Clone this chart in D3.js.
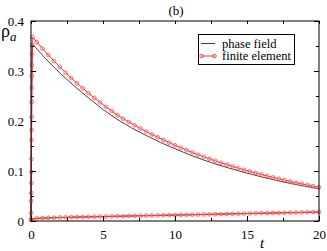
<!DOCTYPE html>
<html>
<head>
<meta charset="utf-8">
<script src="https://cdn.jsdelivr.net/npm/d3@7"></script>
<style>
body { margin: 0; background: #fff; }
</style>
</head>
<body>
<svg width="327" height="251" font-family="Liberation Serif"></svg>
<script>
// phase field: upper curve (t, rho_a)
let phaseUpper = [[0, 0], [0.02, 0.1], [0.05, 0.25], [0.1, 0.354], [1, 0.325], [2, 0.296], [3, 0.270],
  [4, 0.246], [5, 0.223], [6, 0.203], [7, 0.186], [8, 0.171], [9, 0.157], [10, 0.1445], [11, 0.1326],
  [12, 0.1218], [13, 0.1123], [14, 0.1037], [15, 0.0958], [16, 0.0883], [17, 0.0815], [18, 0.0752],
  [19, 0.0696], [20, 0.0645]];
// phase field: lower curve
let phaseLower = [[0, 0], [0.05, 0.004], [0.5, 0.0053], [2, 0.0069], [5, 0.0089], [10, 0.0118],
  [15, 0.0149], [20, 0.0178]];

// finite element: upper curve
let feUpper = [[0, 0.002], [0.005, 0.016], [0.01, 0.04], [0.015, 0.056], [0.02, 0.076], [0.025, 0.098],
  [0.03, 0.124], [0.035, 0.162], [0.04, 0.182], [0.045, 0.208], [0.05, 0.238], [0.055, 0.266],
  [0.06, 0.29], [0.065, 0.312], [0.07, 0.334], [0.08, 0.352], [0.1, 0.368],
  [0.4, 0.3578], [0.8, 0.3447], [1.2, 0.3320], [1.6, 0.3198], [2.0, 0.3081], [2.4, 0.2968],
  [2.8, 0.2859], [3.2, 0.2754], [3.6, 0.2653], [4.0, 0.2556], [4.4, 0.2462], [4.8, 0.2371],
  [5.2, 0.2284], [5.6, 0.2200], [6.0, 0.2120], [6.4, 0.2046], [6.8, 0.1979], [7.2, 0.1914],
  [7.6, 0.1851], [8.0, 0.1790], [8.4, 0.1731], [8.8, 0.1675], [9.2, 0.1620], [9.6, 0.1567],
  [10.0, 0.1515], [10.4, 0.1466], [10.8, 0.1418], [11.2, 0.1371], [11.6, 0.1326], [12.0, 0.1283],
  [12.4, 0.1241], [12.8, 0.1202], [13.2, 0.1164], [13.6, 0.1127], [14.0, 0.1092], [14.4, 0.1057],
  [14.8, 0.1024], [15.2, 0.0992], [15.6, 0.0960], [16.0, 0.0930], [16.4, 0.0901], [16.8, 0.0872],
  [17.2, 0.0845], [17.6, 0.0818], [18.0, 0.0792], [18.4, 0.0767], [18.8, 0.0743], [19.2, 0.0720],
  [19.6, 0.0697], [20.0, 0.0675]];
// finite element: lower curve
let feLower = [[0, 0.003], [0.4, 0.0055], [0.8, 0.006], [1.2, 0.0063], [1.6, 0.0066], [2.0, 0.0072],
  [2.4, 0.0074], [2.8, 0.0077], [3.2, 0.0079], [3.6, 0.0082], [4.0, 0.0084], [4.4, 0.0086],
  [4.8, 0.0089], [5.2, 0.0091], [5.6, 0.0094], [6.0, 0.0096], [6.4, 0.0098], [6.8, 0.0101],
  [7.2, 0.0103], [7.6, 0.0106], [8.0, 0.0108], [8.4, 0.011], [8.8, 0.0113], [9.2, 0.0115],
  [9.6, 0.0118], [10.0, 0.012], [10.4, 0.0122], [10.8, 0.0125], [11.2, 0.0127], [11.6, 0.013],
  [12.0, 0.0132], [12.4, 0.0134], [12.8, 0.0137], [13.2, 0.0139], [13.6, 0.0142], [14.0, 0.0144],
  [14.4, 0.0146], [14.8, 0.0149], [15.2, 0.0151], [15.6, 0.0154], [16.0, 0.0156], [16.4, 0.0158],
  [16.8, 0.0161], [17.2, 0.0163], [17.6, 0.0166], [18.0, 0.0168], [18.4, 0.017], [18.8, 0.0173],
  [19.2, 0.0175], [19.6, 0.0178], [20.0, 0.018]];

let xMajor = [0, 5, 10, 15, 20];
let xMinor = [2.5, 7.5, 12.5, 17.5];
let yMajor = [0, 0.1, 0.2, 0.3, 0.4];
let yMinor = [0.05, 0.15, 0.25, 0.35];
let legendLabels = ["phase field", "finite element"];

var svg = d3.select("svg");
let pLeft = 31, pRight = 319, pTop = 21, pBottom = 221;
let serif = "Liberation Serif";

let x = d3.scaleLinear().domain([0, 20]).range([pLeft, pRight]);
let y = d3.scaleLinear().domain([0, 0.4]).range([pBottom, pTop]);

let line = d3.line().x(d => x(d[0])).y(d => y(d[1]));

let red = "#ff3030";
let markFill = "rgba(255,150,150,0.3)";

// curves
[phaseUpper, phaseLower].forEach(s => {
    svg.append("path").attr("d", line(s))
        .attr("fill", "none").attr("stroke", "#444").attr("stroke-width", 1);
});
[feUpper, feLower].forEach(s => {
    svg.append("path").attr("d", line(s))
        .attr("fill", "none").attr("stroke", red).attr("stroke-width", 1);
    svg.append("g").selectAll("circle")
        .data(s)
        .enter()
        .append("circle")
        .attr("cx", d => x(d[0]))
        .attr("cy", d => y(d[1]))
        .attr("r", 1.9)
        .attr("fill", markFill)
        .attr("stroke", red)
        .attr("stroke-opacity", 0.75)
        .attr("stroke-width", 0.8);
});

// frame
svg.append("rect")
    .attr("x", pLeft).attr("y", pTop)
    .attr("width", pRight - pLeft).attr("height", pBottom - pTop)
    .attr("fill", "none").attr("stroke", "#000").attr("stroke-width", 1);

// inward ticks on all sides
let axB = d3.axisBottom(x).tickValues(xMajor).tickSize(-5).tickPadding(9).tickFormat(d3.format("d"));
let axT = d3.axisTop(x).tickValues(xMajor.concat(xMinor)).tickSize(-3).tickFormat("");
let axL = d3.axisLeft(y).tickValues(yMajor).tickSize(-5).tickPadding(7).tickFormat(d => d === 0 ? "0" : d3.format(".1f")(d));
let axR = d3.axisRight(y).tickValues(yMajor).tickSize(-5).tickFormat("");

function style(g) {
    g.attr("font-family", serif).attr("font-size", 13);
    g.select(".domain").remove();
    g.selectAll(".tick line").attr("stroke", "#000");
    g.selectAll("text").attr("fill", "#000");
}

svg.append("g").attr("transform", `translate(0,${pBottom})`).call(axB).call(style);
svg.append("g").attr("transform", `translate(0,${pBottom})`)
    .call(d3.axisBottom(x).tickValues(xMinor).tickSize(-3).tickFormat("")).call(style);
svg.append("g").attr("transform", `translate(0,${pTop})`).call(axT).call(style);
svg.append("g").attr("transform", `translate(${pLeft},0)`).call(axL).call(style);
svg.append("g").attr("transform", `translate(${pLeft},0)`)
    .call(d3.axisLeft(y).tickValues(yMinor).tickSize(-3).tickFormat("")).call(style);
svg.append("g").attr("transform", `translate(${pRight},0)`).call(axR).call(style);
svg.append("g").attr("transform", `translate(${pRight},0)`)
    .call(d3.axisRight(y).tickValues(yMinor).tickSize(-3).tickFormat("")).call(style);

// labels
svg.append("text").attr("x", 176).attr("y", 15).attr("text-anchor", "middle")
    .attr("font-family", serif).attr("font-size", 13).text("(b)");
let yl = svg.append("text").attr("x", 1).attr("y", 37)
    .attr("font-family", serif).attr("font-size", 18);
yl.append("tspan").text("ρ");
yl.append("tspan").attr("dy", 4).attr("font-size", 13).attr("font-style", "italic").text("a");
svg.append("text").attr("x", 262).attr("y", 248).attr("text-anchor", "middle")
    .attr("font-family", serif).attr("font-size", 15).attr("font-style", "italic").text("t");

// legend
let lg = svg.append("g");
lg.append("rect").attr("x", 198.5).attr("y", 34.5).attr("width", 96).attr("height", 30)
    .attr("fill", "#fff").attr("stroke", "#000").attr("stroke-width", 1);
lg.append("line").attr("x1", 201).attr("x2", 215).attr("y1", 43.5).attr("y2", 43.5)
    .attr("stroke", "#444");
lg.append("line").attr("x1", 201).attr("x2", 215).attr("y1", 56).attr("y2", 56)
    .attr("stroke", red);
[201.5, 214.5].forEach(cx => {
    lg.append("circle").attr("cx", cx).attr("cy", 56).attr("r", 1.8)
        .attr("fill", markFill).attr("stroke", red).attr("stroke-width", 0.8);
});
legendLabels.forEach((t, i) => {
    lg.append("text").attr("x", 222).attr("y", 47.5 + i * 12.5)
        .attr("font-family", serif).attr("font-size", 12.5).text(t);
});
</script>
</body>
</html>
